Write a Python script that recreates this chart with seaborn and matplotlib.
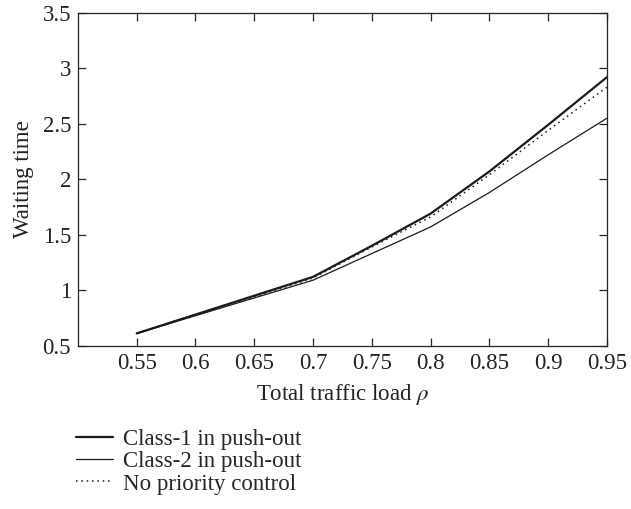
import matplotlib
matplotlib.use("Agg")
import matplotlib.pyplot as plt
import seaborn as sns
import pandas as pd
from matplotlib.ticker import FuncFormatter

load = [0.55, 0.60, 0.65, 0.70, 0.75, 0.80, 0.85, 0.90, 0.95]
class1 = [0.61, 0.78, 0.95, 1.12, 1.40, 1.69, 2.07, 2.49, 2.92]
class2 = [0.61, 0.77, 0.93, 1.09, 1.33, 1.57, 1.88, 2.22, 2.55]
nopri = [0.61, 0.78, 0.94, 1.11, 1.39, 1.66, 2.04, 2.44, 2.83]
labels = ["Class-1 in push-out", "Class-2 in push-out", "No priority control"]
xticks = [0.55, 0.6, 0.65, 0.7, 0.75, 0.8, 0.85, 0.9, 0.95]
yticks = [0.5, 1, 1.5, 2, 2.5, 3, 3.5]

sns.set_theme(style="white")
plt.rcParams['font.family'] = ['Liberation Serif', 'DejaVu Serif']
plt.rcParams['mathtext.fontset'] = 'stix'

FS = 16.5
fig = plt.figure(figsize=(6.31, 5.09), dpi=100)
ax = fig.add_axes([0.1236, 0.321, 0.838, 0.6535])

series = [class1, class2, nopri]
styles = [dict(lw=1.6, ls='-'), dict(lw=0.9, ls='-'), dict(lw=1.1, ls=(0, (1, 2.5)))]
for vals, lab, st in zip(series, labels, styles):
    df = pd.DataFrame({"x": load, "y": vals})
    sns.lineplot(data=df, x="x", y="y", ax=ax, color="#1a1a1a", label=lab,
                 linewidth=st['lw'], linestyle=st['ls'])

ax.set_xlim(0.5, 0.95)
ax.set_ylim(0.5, 3.5)
ax.set_xticks(xticks)
ax.set_yticks(yticks)
fmt = FuncFormatter(lambda v, p: f"{v:g}")
ax.xaxis.set_major_formatter(fmt)
ax.yaxis.set_major_formatter(fmt)
ax.tick_params(direction='in', length=6, width=0.9, top=True, right=True,
               bottom=True, left=True, labelsize=FS, colors='#222222', pad=5)
for s in ax.spines.values():
    s.set_color('#222222')
    s.set_linewidth(0.9)

ax.set_xlabel(r"Total traffic load $\rho$", fontsize=FS, color='#222222', labelpad=6)
ax.set_ylabel("Waiting time", fontsize=FS, color='#222222', labelpad=6)

h, l = ax.get_legend_handles_labels()
ax.get_legend().remove()
fig.legend(h, l, loc='upper left', bbox_to_anchor=(0.121, 0.157), frameon=False,
           fontsize=FS, handlelength=1.6, handletextpad=0.45, labelspacing=0.05,
           borderaxespad=0, borderpad=0)

fig.savefig("out.png", dpi=100)
